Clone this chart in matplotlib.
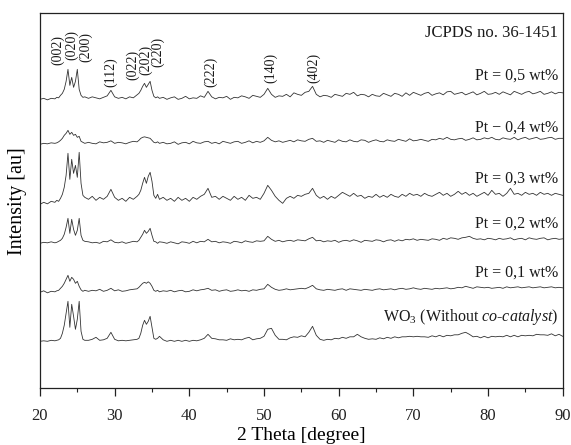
import numpy as np
import matplotlib
matplotlib.use("Agg")
import matplotlib.pyplot as plt

plt.rcParams['font.family'] = ['Liberation Serif', 'DejaVu Serif']
plt.rcParams['mathtext.fontset'] = 'custom'
plt.rcParams['mathtext.rm'] = 'Liberation Serif'
plt.rcParams['mathtext.it'] = 'Liberation Serif:italic'

# 2-theta grid: finer steps across the two main reflection groups
two_theta = np.concatenate([
    np.arange(20.0, 22.01, 0.5),
    np.arange(22.25, 26.01, 0.25),
    np.arange(26.5, 33.01, 0.5),
    np.arange(33.25, 36.01, 0.25),
    np.arange(36.5, 90.01, 0.5),
])

# intensities above each pattern's own baseline (arbitrary units)
wo3 = (
    [0, 0.5, 0, 1, 0.5]
    + [1, 1.5, 3, 8, 16, 28, 40, 14, 37, 25, 12, 22, 40, 10, 2, 1]
    + [1, 2, 4, 1, 1.5, 3, 9, 2, 0.5, 1, 0.5, 1, 1.5, 2]
    + [3, 8, 16, 21, 17, 20, 25, 14, 3, 2, 3, 5]
    + [1.5, 0, 1, 0, 1, 0, 1, 0, 1, 0.5,
       1.5, 3, 7, 3, 2.5, 1.5, 1.5, 1, 2.5, 1.5,
       2, 1.5, 3, 4, 1.5, 2.5, 3, 5, 12, 13,
       6, 2, 2, 1.5, 3.5, 4.5, 4, 5.5, 4.5, 9,
       15, 6, 2, 1, 2, 1.5, 3, 2.5, 4, 3,
       4.5, 4.5, 7, 4.5, 3, 2, 2.5, 2, 3.5, 2.5,
       4, 3, 4.5, 3.5, 4.5, 4.5, 5, 4.5, 5, 4.5,
       4.5, 4, 5.5, 4.5, 6, 4.5, 6, 5.5, 6.5, 6.5,
       8, 9, 7, 4.5, 5, 3.5, 5, 3.5, 5, 4.5,
       5, 4.5, 6, 4.5, 6, 4.5, 6, 5.5, 6, 5.5,
       7, 6.5, 6.5, 6, 7.5, 5.5, 7, 5]
)
pt01 = (
    [0, 1.5, -0.5, 1, 0.5]
    + [1.5, 2, 4, 6, 9, 13, 17, 11, 15, 13, 9, 11, 6, 2.5, 1, 2]
    + [1, 2, 1.5, 3, 1, 2, 4, 1.5, 2.5, 1, 1.5, 2.5, 3, 3.5]
    + [5, 7, 9, 10, 9, 10.5, 9, 6, 2, 1, 2, 0.5]
    + [1.5, 1, 2, 0.5, 1.5, 2, 0.5, 1, 2.5, 1.5,
       2.5, 3, 4, 2, 2.5, 1, 2, 2.5, 1, 1.5,
       2.5, 1.5, 2, 1, 2.5, 2, 3, 3.5, 8, 5,
       3, 2, 2.5, 3.5, 2.5, 3, 3.5, 4, 3.5, 5,
       7, 3.5, 2.5, 2, 3, 2.5, 2, 3, 3.5, 2,
       3.5, 3, 2.5, 2, 3, 2.5, 2, 3, 3.5, 2.5,
       3, 3.5, 2.5, 3.5, 4, 3, 3.5, 4.5, 3.5, 3,
       4, 3.5, 3, 4, 3.5, 4, 4.5, 3.5, 4, 5,
       4.5, 6, 5, 4, 5.5, 5, 4.5, 5, 4, 4.5,
       5, 4, 5.5, 4.5, 5, 5.5, 4.5, 5, 5.5, 4.5,
       5, 5.5, 4.5, 5, 5.5, 4.5, 5, 4.5]
)
pt02 = (
    [0, 1, 0.5, 1.5, 0.5]
    + [1, 2, 3, 5, 9, 16, 25, 10, 24, 14, 8, 13, 25, 8, 3, 2]
    + [1.5, 0.5, 1, 0, 2, 1.5, 3.5, 1, 0.5, 1.5, 0, 1, 2, 1.5]
    + [3, 6, 9, 13, 10, 12, 15, 8, 2, 1.5, 0, 1.5]
    + [1, 0, 1.5, 0.5, -0.5, 1.5, 1, 0, 2, 0.5,
       2, 1.5, 4, 1.5, 2, 0.5, 1.5, 1, 0, 2,
       1.5, 0.5, 2.5, 1.5, 1, 2.5, 2, 2.5, 7, 4,
       2, 3, 1.5, 2.5, 3, 2, 3.5, 3, 2.5, 4.5,
       6, 2.5, 3, 1.5, 2.5, 2, 3, 1, 2.5, 3,
       2, 3.5, 2.5, 1, 3, 2.5, 2, 3.5, 3, 1.5,
       3, 3.5, 2, 3.5, 2.5, 4, 3.5, 4.5, 3, 4,
       3.5, 3, 4.5, 4, 3, 5, 4, 5.5, 5, 4,
       5.5, 6, 7, 5, 4, 4.5, 3.5, 5, 4.5, 3.5,
       5, 4, 4.5, 5.5, 3.5, 4.5, 5, 3.5, 5.5, 4.5,
       4, 5, 5.5, 3.5, 4.5, 5, 4, 4.5]
)
pt03 = (
    [-1, 1, -0.5, 2, 1]
    + [3, 2, 5, 9, 16, 28, 50, 24, 44, 30, 38, 26, 51, 20, 8, 6]
    + [4, 7, 3, 6, 4, 7, 14, 6, 3, 5, 2, 6, 4, 7]
    + [9, 13, 20, 26, 20, 27, 31, 22, 8, 5, 9, 4]
    + [6, 3, 5, 2, 6, 3, 5, 2, 6, 4,
       7, 9, 15, 6, 7, 4, 7, 5, 3, 7,
       4, 6, 3, 8, 5, 6, 4, 10, 18, 13,
       7, 3, 0, 5, 7, 5, 8, 7, 9, 10,
       15, 8, 5, 7, 4, 7, 5, 8, 11, 9,
       7, 10, 7, 8, 5, 7, 6, 9, 6, 8,
       6, 9, 7, 6, 9, 7, 10, 8, 9, 7,
       10, 8, 7, 9, 11, 8, 10, 7, 9, 12,
       9, 11, 8, 10, 7, 9, 11, 8, 13, 9,
       10, 7, 10, 15, 9, 10, 8, 11, 9, 10,
       8, 11, 9, 10, 8, 10, 9, 8]
)
pt04 = (
    [0, 1, 0.5, 1.5, 1]
    + [1.5, 2.5, 4, 6, 9, 11, 14, 10, 12, 9, 10, 7, 8, 3, 2, 1]
    + [2, 1, 0.5, 2.5, 1.5, 2, 3.5, 1, 2, 1.5, 0.5, 2, 3, 2.5]
    + [4, 6, 7, 7.5, 7, 6.5, 6, 4, 2, 1.5, 2.5, 1]
    + [2, 0.5, 1, 2.5, 0, 1.5, 2, 0.5, 3, 1.5,
       1, 2.5, 3, 1, 2, 0.5, 3, 2, 1, 2.5,
       3, 1, 2, 3.5, 1.5, 3, 2, 3.5, 7, 4,
       2.5, 3.5, 2, 3, 4, 2.5, 4.5, 3.5, 3, 5,
       6, 3, 3.5, 2, 4, 3, 2, 4.5, 3, 2.5,
       4.5, 3, 2.5, 4.5, 4, 2, 3.5, 4.5, 3, 2.5,
       4.5, 3.5, 3, 5, 4, 3, 5.5, 3.5, 4, 5,
       4, 3, 5, 4.5, 6, 5, 7, 5, 4.5, 5.5,
       6, 4, 5, 6.5, 4.5, 5, 6.5, 5.5, 7, 5,
       4.5, 6.5, 5.5, 5, 7, 4.5, 6, 7, 5, 6,
       7, 5, 5.5, 6.5, 7, 5, 6, 6]
)
pt05 = (
    [0, 1, -0.5, 1, 0.5]
    + [2, 1.5, 4, 6, 10, 18, 30, 14, 22, 12, 18, 30, 10, 4, 2, 2.5]
    + [1, 2.5, 1.5, 0.5, 2, 3.5, 9, 2.5, 1, 2, 0.5, 2.5, 1.5, 4.5]
    + [6, 9, 13, 16, 12, 15, 18, 9, 3, 1.5, 2.5, 1]
    + [2, 0, 1.5, 2.5, 0, 1, 3, 0.5, 1.5, 1,
       3.5, 2, 8, 2.5, 0.5, 2, 1.5, 3, 0, 2,
       1.5, 3.5, 2.5, 1, 4, 3, 2, 5, 11, 5,
       2, 3.5, 3, 5, 2.5, 6.5, 5, 4, 7, 8,
       13, 5, 2.5, 4, 3.5, 2, 5, 4, 3, 6,
       5, 7, 3.5, 5, 4.5, 2.5, 5, 3.5, 3, 6,
       4.5, 3, 6, 5, 3, 6.5, 4, 7, 5.5, 4,
       6, 7, 4, 5.5, 6.5, 4.5, 7.5, 8, 5, 6,
       7, 4.5, 6, 7.5, 4.5, 6, 8, 5, 5.5, 7,
       5, 7.5, 6, 4.5, 8, 6.5, 5, 7, 8, 5.5,
       6.5, 8, 5, 6, 7.5, 5.5, 7, 6.5]
)

patterns = [wo3, pt01, pt02, pt03, pt04, pt05]
sample_names = [r'WO$_3$ (Without $\mathit{co}$-$\mathit{catalyst}$)',
                'Pt = 0,1 wt%', 'Pt = 0,2 wt%', 'Pt = 0,3 wt%',
                'Pt \u2212 0,4 wt%', 'Pt = 0,5 wt%']

# vertical stacking of the patterns and their captions
offsets = [47, 96, 145, 185, 244, 289]
name_y = [71, 116, 165, 210, 261, 313]

# Miller indices of the reflections marked above the top pattern
hkl = ['(002)', '(020)', '(200)', '(112)', '(022)', '(202)', '(220)',
       '(222)', '(140)', '(402)']
hkl_x = [22.4, 24.25, 26.05, 29.4, 32.4, 34.1, 35.8, 42.8, 50.9, 56.7]
hkl_y = [323, 328, 326, 301, 308, 313, 321, 301, 305, 305]

fig = plt.figure(figsize=(5.71, 4.45), dpi=100)
ax = fig.add_axes([0.070, 0.1274, 0.9155, 0.8426])

for inten, off in zip(patterns, offsets):
    ax.plot(two_theta, np.array(inten) + off, color='#333333', lw=0.6)

for name, y in zip(sample_names, name_y):
    ax.text(89.4, y, name, ha='right', va='center', fontsize=11.5, color='#1a1a1a')

ax.text(89.4, 355, 'JCPDS no. 36-1451', ha='right', va='center',
        fontsize=12, color='#1a1a1a')

for lab, x, y in zip(hkl, hkl_x, hkl_y):
    ax.text(x, y, lab, rotation=90, ha='center', va='bottom',
            fontsize=10, color='#1a1a1a')

ax.set_xlim(20, 90)
ax.set_ylim(0, 375)
ax.set_xticks(np.arange(20, 91, 10))
ax.set_xticks(np.arange(25, 90, 10), minor=True)
ax.set_yticks([])
ax.tick_params(axis='x', which='major', direction='out', length=6, width=0.9,
               labelsize=12, pad=8, colors='#222222')
ax.tick_params(axis='x', which='minor', direction='out', length=3, width=0.8,
               colors='#222222')
for sp in ax.spines.values():
    sp.set_linewidth(0.9)
    sp.set_color('#222222')

ax.set_xlabel('2 Theta [degree]', fontsize=14)
ax.xaxis.set_label_coords(0.5, -0.102)
ax.set_ylabel('Intensity [au]', fontsize=14.5)
ax.yaxis.set_label_coords(-0.025, 0.5)

plt.savefig('out.png', dpi=100)
